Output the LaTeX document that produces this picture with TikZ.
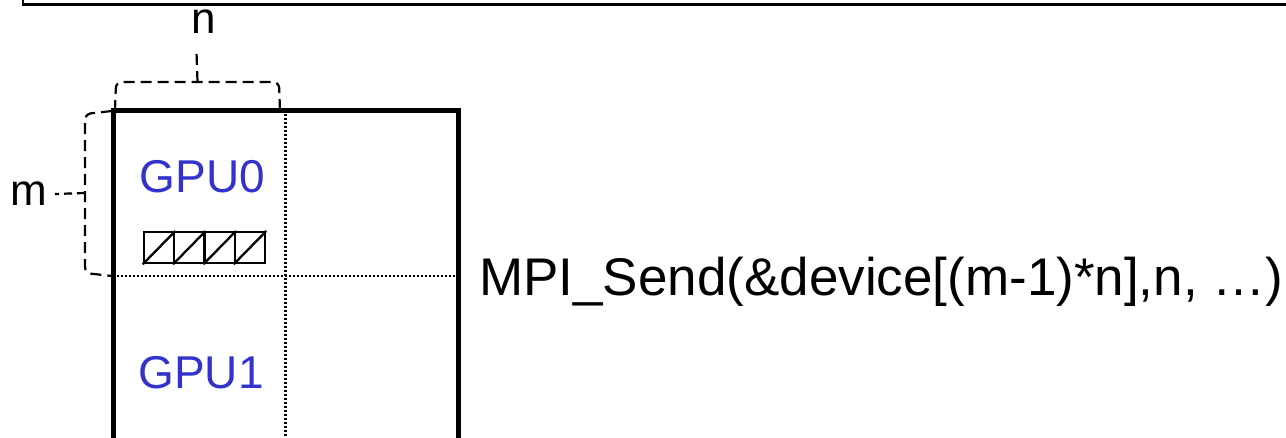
\documentclass[tikz,border=0pt]{standalone}
\usepackage{fontspec}
\setmainfont{Liberation Sans}
\definecolor{gpublue}{HTML}{3333CC}
\tikzset{
  frameline/.style={line width=5pt, line cap=butt},
  gridline/.style={line width=2.2pt, dash pattern=on 1.8pt off 2.2pt},
  bracestyle/.style={line width=2.2pt, dash pattern=on 11pt off 6pt, rounded corners=6pt},
  celltag/.style={inner sep=0pt, anchor=base, text=gpublue, font=\fontsize{46}{50}\selectfont},
  dimtag/.style={inner sep=0pt, anchor=base, font=\fontsize{44}{48}\selectfont},
  cellbox/.style={draw, line width=2.3pt},
}
\begin{document}
\begin{tikzpicture}[x=1pt, y=-1pt]
\useasboundingbox (0,0) rectangle (1286,438);
\clip (0,0) rectangle (1286,438);

% lower edge of the frame above
\draw[line width=2.8pt] (23,-5) |- (1295,4.5);

% matrix outline (continues below)
\coordinate (tl) at (113.5,111);
\coordinate (tr) at (458,111);
\draw[frameline] (113.5,450) -- (tl) -- (tr) -- (458,450);

% column and row split
\coordinate (colTop) at (285.5,114);
\coordinate (colBot) at (285.5,440);
\coordinate (rowL) at (117,276);
\coordinate (rowR) at (456,276);
\draw[gridline] (colTop) -- (colBot);
\draw[gridline] (rowL) -- (rowR);

% device labels
\node[celltag] (gpu0) at (202.5,193) {GPU0};
\node[celltag] (gpu1) at (201,389) {GPU1};

% last row of GPU0: n hatched cells
\foreach \i in {0,1,2,3}{
  \pgfmathsetmacro{\xa}{142.7+30.33*\i}
  \node[cellbox, minimum width=30.33pt, minimum height=31pt, inner sep=0pt, anchor=north west] (cell\i) at (\xa,231) {};
  \draw[line width=2.3pt] (cell\i.south west) -- (cell\i.north east);
}

% brace for n
\node[dimtag] (nlab) at (204,34) {n};
\coordinate (nTip) at (196.5,52);
\coordinate (nMid) at (197.5,82);
\draw[bracestyle] (115,111) -- (116,82) -- (279,82) -- (280,111);
\draw[line width=2.2pt, dash pattern=on 11pt off 6pt] (nMid) -- (nTip);

% brace for m
\node[dimtag] (mlab) at (28.5,206) {m};
\coordinate (mTip) at (55,194);
\coordinate (mMid) at (85,193);
\draw[bracestyle] (112,111) -- (85,114) -- (85,273) -- (112,276);
\draw[line width=2.2pt, dash pattern=on 8pt off 5pt] (mMid) -- (mTip);

% send call
\node[inner sep=0pt, anchor=base west, font=\fontsize{53}{58}\selectfont] (call) at (479,296) {MPI\_Send(\&device[(m-1)*n],n, …)};
\end{tikzpicture}
\end{document}
